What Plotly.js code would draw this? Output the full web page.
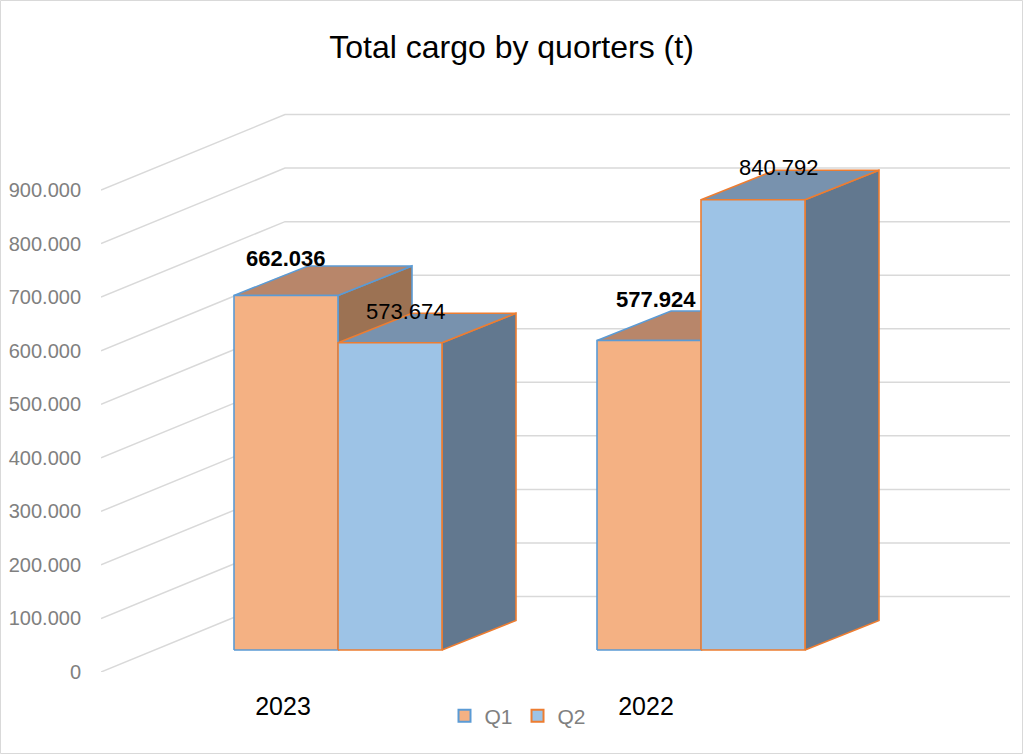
<!DOCTYPE html>
<html>
<head>
<meta charset="utf-8">
<script src="https://cdn.plot.ly/plotly-3.0.1.min.js"></script>
<style>
html,body{margin:0;padding:0;background:#fff;}
#chart{width:1023px;height:754px;}
</style>
</head>
<body>
<div id="chart"></div>
<script>
// ---------- DATA ----------
const years = ['2023', '2022'];
const seriesNames = ['Q1', 'Q2'];
const q1 = [662036, 577924];
const q2 = [573674, 840792];
const yTicks = [0, 100000, 200000, 300000, 400000, 500000, 600000, 700000, 800000, 900000];

// ---------- STYLE / GEOMETRY ----------
const FONT = '"Liberation Sans Narrow", "Arial Narrow", "Liberation Sans", Arial, sans-serif';
const PX_PER_X = 363;          // px per category unit
const PX_PER_Y = 0.0005355;    // px per tonne
const PLOT_L = 101, PLOT_R = 1010, PLOT_T = 100, PLOT_B = 672, W = 1023, H = 754;
const CAT0_PX = 283;           // px of first category (front floor edge)
const xMin = (PLOT_L - CAT0_PX) / PX_PER_X;
const xMax = (PLOT_R - CAT0_PX) / PX_PER_X;
const yMax = (PLOT_B - PLOT_T) / PX_PER_Y;

const WALL_DX = 184 / PX_PER_X, WALL_DY = 75.5 / PX_PER_Y;     // depth of the walls
const SHIFT_X = 55 / PX_PER_X, BASE_Y = 22 / PX_PER_Y;         // bar front plane
const BAR_W = 104 / PX_PER_X;
const DEPTH_X = 74 / PX_PER_X, DEPTH_Y = 29.5 / PX_PER_Y;      // bar depth

const styles = [
  {front: '#F4B183', top: '#B8866A', side: '#9C7253', edge: '#5B9BD5', bold: true},
  {front: '#9DC3E6', top: '#7892AE', side: '#62788F', edge: '#ED7D31', bold: false}
];
// small manual nudges of data labels (px), [series][category]
const LABEL_NUDGE_X = [[-0.5, 6.5], [16, 25.5]];
const LABEL_NUDGE_Y = [[7.5, 11.5], [1.5, 2.5]];

const series = [q1, q2];
const traces = [];

// gridlines (side wall + back wall)
yTicks.forEach(t => {
  traces.push({
    type: 'scatter', mode: 'lines', hoverinfo: 'skip', showlegend: false,
    x: [xMin, xMin + WALL_DX, xMax],
    y: [t, t + WALL_DY, t + WALL_DY],
    line: {color: '#d9d9d9', width: 1.5}
  });
});

function poly(xs, ys, fill, edge) {
  traces.push({
    type: 'scatter', mode: 'lines', fill: 'toself', hoverinfo: 'skip', showlegend: false,
    x: xs.concat([xs[0]]), y: ys.concat([ys[0]]),
    fillcolor: fill, line: {color: edge, width: 1.6}
  });
}

const annotations = [];
years.forEach((yr, c) => {
  series.forEach((vals, s) => {
    const v = vals[c];
    const st = styles[s];
    const xl = c + SHIFT_X - BAR_W + s * BAR_W;
    const xr = xl + BAR_W;
    const yb = BASE_Y, yt = BASE_Y + v;
    // side
    poly([xr, xr + DEPTH_X, xr + DEPTH_X, xr], [yb, yb + DEPTH_Y, yt + DEPTH_Y, yt], st.side, st.edge);
    // top
    poly([xl, xr, xr + DEPTH_X, xl + DEPTH_X], [yt, yt, yt + DEPTH_Y, yt + DEPTH_Y], st.top, st.edge);
    // front
    poly([xl, xr, xr, xl], [yb, yb, yt, yt], st.front, st.edge);
    annotations.push({
      x: (xl + xr) / 2, y: yt + DEPTH_Y, xref: 'x', yref: 'y',
      text: st.bold ? '<b>' + v.toLocaleString('de-DE') + '</b>' : v.toLocaleString('de-DE'),
      showarrow: false, xanchor: 'center', yanchor: 'middle',
      xshift: LABEL_NUDGE_X[s][c], yshift: LABEL_NUDGE_Y[s][c],
      font: {family: FONT, size: 22, color: '#000000'}
    });
  });
});

// legend entries
series.forEach((vals, s) => {
  traces.push({
    type: 'bar', x: [null], y: [null], name: seriesNames[s], hoverinfo: 'skip',
    marker: {color: styles[s].front, line: {color: styles[s].edge, width: 2}}
  });
});

const layout = {
  width: W, height: H,
  margin: {l: PLOT_L, r: W - PLOT_R, t: PLOT_T, b: H - PLOT_B, pad: 0},
  paper_bgcolor: '#ffffff', plot_bgcolor: 'rgba(0,0,0,0)',
  separators: ',.',
  font: {family: FONT},
  title: {
    text: 'Total cargo by quorters (t)',
    font: {family: FONT, size: 32, color: '#000000'},
    x: 0.5, xref: 'container', xanchor: 'center',
    y: 1 - 47 / H, yref: 'container', yanchor: 'middle'
  },
  xaxis: {
    range: [xMin, xMax], showgrid: false, zeroline: false, showline: false,
    tickvals: years.map((y, i) => i), ticktext: years, ticks: '',
    tickfont: {family: FONT, size: 25, color: '#000000'},
    ticklabelstandoff: 17, fixedrange: true
  },
  yaxis: {
    range: [0, yMax], showgrid: false, zeroline: false, showline: false,
    tickvals: yTicks, tickformat: ',d', ticks: '',
    tickfont: {family: FONT, size: 20, color: '#808080'},
    ticklabelstandoff: 19, fixedrange: true
  },
  showlegend: true,
  legend: {
    orientation: 'h', x: (518 - PLOT_L) / (PLOT_R - PLOT_L), xanchor: 'center',
    y: (PLOT_B - 716) / (PLOT_B - PLOT_T), yanchor: 'middle',
    font: {family: FONT, size: 21, color: '#808080'},
    bgcolor: 'rgba(0,0,0,0)', itemwidth: 30, tracegroupgap: 0
  },
  annotations: annotations,
  shapes: [{
    type: 'rect', xref: 'paper', yref: 'paper', layer: 'below',
    x0: (0.5 - PLOT_L) / (PLOT_R - PLOT_L), x1: (W - 0.5 - PLOT_L) / (PLOT_R - PLOT_L),
    y0: (PLOT_B - (H - 0.5)) / (PLOT_B - PLOT_T), y1: (PLOT_B - 0.5) / (PLOT_B - PLOT_T),
    line: {color: '#d9d9d9', width: 1}
  }]
};

Plotly.newPlot('chart', traces, layout, {displayModeBar: false, staticPlot: true});
</script>
</body>
</html>
